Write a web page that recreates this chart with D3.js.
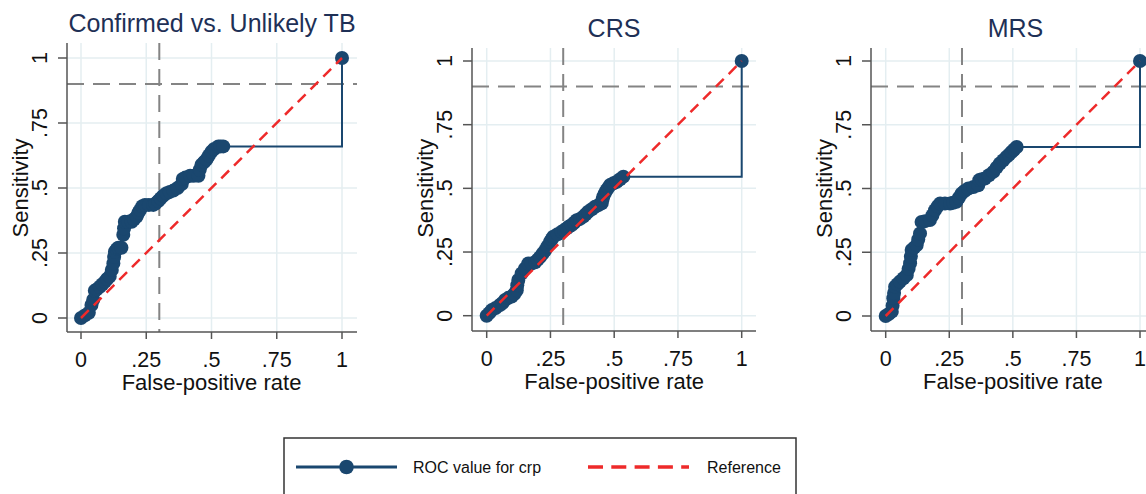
<!DOCTYPE html>
<html>
<head>
<meta charset="utf-8">
<script src="https://cdn.jsdelivr.net/npm/d3@7"></script>
<style>
  body { margin: 0; background: #fff; }
  svg { display: block; font-family: "Liberation Sans", Arial, Helvetica, sans-serif; }
</style>
</head>
<body>
<svg id="chart" width="1146" height="494"></svg>
<script>
// panel titles and axis ticks
const titles = ['Confirmed vs. Unlikely TB', 'CRS', 'MRS'];
const ticks = [0, 0.25, 0.5, 0.75, 1];
const tickLabels = ['0', '.25', '.5', '.75', '1'];
const fprCut = 0.3;   // vertical dashed line
const sensCut = 0.9;  // horizontal dashed line

// ROC points (false-positive rate, sensitivity)
const confirmedFpr = [0, 0.015, 0.03, 0.04, 0.047, 0.053, 0.06, 0.072, 0.082, 0.092, 0.1, 0.11, 0.118, 0.124, 0.127, 0.13, 0.137, 0.143, 0.155, 0.162, 0.165, 0.168, 0.18, 0.194, 0.203, 0.213, 0.22, 0.226, 0.235, 0.245, 0.26, 0.277, 0.285, 0.296, 0.305, 0.315, 0.328, 0.34, 0.354, 0.37, 0.386, 0.39, 0.4, 0.418, 0.432, 0.45, 0.455, 0.462, 0.472, 0.481, 0.49, 0.5, 0.51, 0.526, 0.535, 0.545, 1];
const confirmedSens = [0, 0.01, 0.02, 0.05, 0.07, 0.105, 0.11, 0.12, 0.13, 0.14, 0.15, 0.16, 0.185, 0.21, 0.235, 0.255, 0.265, 0.27, 0.27, 0.32, 0.345, 0.37, 0.37, 0.37, 0.38, 0.39, 0.405, 0.415, 0.43, 0.435, 0.435, 0.435, 0.44, 0.45, 0.46, 0.47, 0.48, 0.485, 0.49, 0.5, 0.515, 0.535, 0.54, 0.547, 0.547, 0.547, 0.57, 0.59, 0.6, 0.61, 0.625, 0.64, 0.65, 0.66, 0.66, 0.66, 1];

const crsFpr = [0, 0.01, 0.02, 0.035, 0.052, 0.062, 0.072, 0.085, 0.098, 0.108, 0.118, 0.12, 0.124, 0.137, 0.15, 0.163, 0.176, 0.19, 0.2, 0.209, 0.219, 0.229, 0.238, 0.248, 0.255, 0.261, 0.278, 0.294, 0.304, 0.314, 0.323, 0.333, 0.343, 0.353, 0.366, 0.379, 0.388, 0.398, 0.412, 0.425, 0.438, 0.451, 0.454, 0.457, 0.463, 0.47, 0.477, 0.484, 0.497, 0.51, 0.523, 0.536, 1];
const crsSens = [0, 0.01, 0.022, 0.03, 0.042, 0.05, 0.062, 0.07, 0.075, 0.085, 0.1, 0.12, 0.14, 0.166, 0.185, 0.205, 0.205, 0.21, 0.22, 0.23, 0.243, 0.256, 0.272, 0.29, 0.3, 0.31, 0.32, 0.33, 0.336, 0.343, 0.35, 0.356, 0.365, 0.375, 0.38, 0.389, 0.398, 0.408, 0.418, 0.428, 0.434, 0.441, 0.455, 0.467, 0.48, 0.493, 0.503, 0.513, 0.52, 0.526, 0.536, 0.546, 1];

const mrsFpr = [0, 0.012, 0.024, 0.027, 0.03, 0.033, 0.037, 0.046, 0.056, 0.07, 0.083, 0.09, 0.096, 0.099, 0.102, 0.112, 0.122, 0.128, 0.135, 0.141, 0.155, 0.174, 0.184, 0.194, 0.204, 0.214, 0.233, 0.253, 0.265, 0.278, 0.288, 0.298, 0.31, 0.325, 0.345, 0.364, 0.368, 0.378, 0.39, 0.406, 0.423, 0.436, 0.449, 0.462, 0.475, 0.485, 0.495, 0.505, 0.515, 1];
const mrsSens = [0, 0.008, 0.017, 0.04, 0.07, 0.09, 0.115, 0.125, 0.135, 0.148, 0.161, 0.185, 0.207, 0.233, 0.259, 0.268, 0.278, 0.3, 0.324, 0.369, 0.372, 0.376, 0.395, 0.415, 0.43, 0.441, 0.441, 0.441, 0.444, 0.448, 0.464, 0.48, 0.49, 0.5, 0.506, 0.513, 0.533, 0.536, 0.539, 0.552, 0.565, 0.582, 0.598, 0.611, 0.624, 0.633, 0.643, 0.653, 0.663, 1];

const legendLabels = ['ROC value for crp', 'Reference'];

const navy = '#1a476f';
const red = '#ee2a2a';
const grid = '#e4eef1';

// plot boxes
const panels = [
  { title: titles[0], fpr: confirmedFpr, sens: confirmedSens, left: 67, right: 357, top: 43, bottom: 332, x0: 81, x1: 342, y0: 318, y1: 58 },
  { title: titles[1], fpr: crsFpr, sens: crsSens, left: 472, right: 756, top: 48, bottom: 331, x0: 486.7, x1: 741.7, y0: 315.7, y1: 61 },
  { title: titles[2], fpr: mrsFpr, sens: mrsSens, left: 871, right: 1160, top: 48, bottom: 331, x0: 885.7, x1: 1140, y0: 316, y1: 61 },
];

const svg = d3.select('#chart');

panels.forEach(p => {
  const x = d3.scaleLinear().domain([0, 1]).range([p.x0, p.x1]);
  const y = d3.scaleLinear().domain([0, 1]).range([p.y0, p.y1]);
  const g = svg.append('g');

  // grid lines
  g.selectAll('.vgrid').data(ticks).join('line')
    .attr('x1', d => x(d)).attr('x2', d => x(d))
    .attr('y1', p.top).attr('y2', p.bottom)
    .attr('stroke', grid).attr('stroke-width', 1.5);
  g.selectAll('.hgrid').data(ticks).join('line')
    .attr('x1', p.left).attr('x2', p.right)
    .attr('y1', d => y(d)).attr('y2', d => y(d))
    .attr('stroke', grid).attr('stroke-width', 1.5);

  // cut-off lines
  g.append('line')
    .attr('x1', x(fprCut)).attr('x2', x(fprCut))
    .attr('y1', p.top).attr('y2', p.bottom)
    .attr('stroke', '#848484').attr('stroke-width', 2).attr('stroke-dasharray', '17,9');
  g.append('line')
    .attr('x1', p.left).attr('x2', p.right)
    .attr('y1', y(sensCut)).attr('y2', y(sensCut))
    .attr('stroke', '#848484').attr('stroke-width', 2).attr('stroke-dasharray', '17,9');

  // ROC curve
  const pts = p.fpr.map((f, i) => [f, p.sens[i]]);
  const line = d3.line().x(d => x(d[0])).y(d => y(d[1]));
  g.append('path')
    .attr('d', line(pts.slice(0, -1)))
    .attr('fill', 'none').attr('stroke', navy).attr('stroke-width', 2);
  g.append('path')
    .attr('d', line.curve(d3.curveStepAfter)(pts.slice(-2)))
    .attr('fill', 'none').attr('stroke', navy).attr('stroke-width', 2);
  g.selectAll('.pt').data(pts).join('circle')
    .attr('cx', d => x(d[0])).attr('cy', d => y(d[1]))
    .attr('r', 7).attr('fill', navy);

  // reference diagonal
  g.append('line')
    .attr('x1', x(0)).attr('y1', y(0)).attr('x2', x(1)).attr('y2', y(1))
    .attr('stroke', red).attr('stroke-width', 2.5).attr('stroke-dasharray', '11,7');

  // axes
  g.append('line').attr('x1', p.left).attr('x2', p.left).attr('y1', p.top).attr('y2', p.bottom)
    .attr('stroke', '#555').attr('stroke-width', 1.5);
  g.append('line').attr('x1', p.left).attr('x2', p.right).attr('y1', p.bottom).attr('y2', p.bottom)
    .attr('stroke', '#555').attr('stroke-width', 1.5);

  g.selectAll('.ytick').data(ticks).join('line')
    .attr('x1', p.left - 9).attr('x2', p.left)
    .attr('y1', d => y(d)).attr('y2', d => y(d))
    .attr('stroke', '#555').attr('stroke-width', 1.5);
  g.selectAll('.xtick').data(ticks).join('line')
    .attr('x1', d => x(d)).attr('x2', d => x(d))
    .attr('y1', p.bottom).attr('y2', p.bottom + 7)
    .attr('stroke', '#555').attr('stroke-width', 1.5);

  g.selectAll('.ylab').data(ticks).join('text')
    .attr('transform', d => `translate(${p.left - 20},${y(d)}) rotate(-90)`)
    .attr('text-anchor', 'middle')
    .attr('font-size', 21.5).attr('fill', '#111')
    .text((d, i) => tickLabels[i]);
  g.selectAll('.xlab').data(ticks).join('text')
    .attr('x', d => x(d)).attr('y', p.bottom + 35)
    .attr('text-anchor', 'middle')
    .attr('font-size', 21.5).attr('fill', '#111')
    .text((d, i) => tickLabels[i]);

  // axis titles
  g.append('text')
    .attr('transform', `translate(${p.left - 39},${(p.y0 + p.y1) / 2}) rotate(-90)`)
    .attr('text-anchor', 'middle').attr('font-size', 22).attr('fill', '#111')
    .text('Sensitivity');
  g.append('text')
    .attr('x', (p.x0 + p.x1) / 2).attr('y', p.bottom + 58)
    .attr('text-anchor', 'middle').attr('font-size', 22).attr('fill', '#111')
    .text('False-positive rate');

  // panel title
  g.append('text')
    .attr('x', (p.left + p.right) / 2).attr('y', p.top - 11)
    .attr('text-anchor', 'middle').attr('font-size', 25).attr('fill', '#1e3056')
    .text(p.title);
});

// legend
const leg = svg.append('g');
leg.append('rect')
  .attr('x', 284).attr('y', 438).attr('width', 512).attr('height', 80)
  .attr('fill', '#fff').attr('stroke', '#333').attr('stroke-width', 1.5);
leg.append('line').attr('x1', 296).attr('x2', 397).attr('y1', 467).attr('y2', 467)
  .attr('stroke', navy).attr('stroke-width', 3);
leg.append('circle').attr('cx', 346.5).attr('cy', 467).attr('r', 7.3).attr('fill', navy);
leg.append('line').attr('x1', 588).attr('x2', 689).attr('y1', 467).attr('y2', 467)
  .attr('stroke', red).attr('stroke-width', 3.5).attr('stroke-dasharray', '15,8.3');
leg.selectAll('.ltxt').data(legendLabels).join('text')
  .attr('x', (d, i) => i === 0 ? 413 : 707).attr('y', 473)
  .attr('font-size', 16).attr('fill', '#111')
  .text(d => d);
</script>
</body>
</html>
